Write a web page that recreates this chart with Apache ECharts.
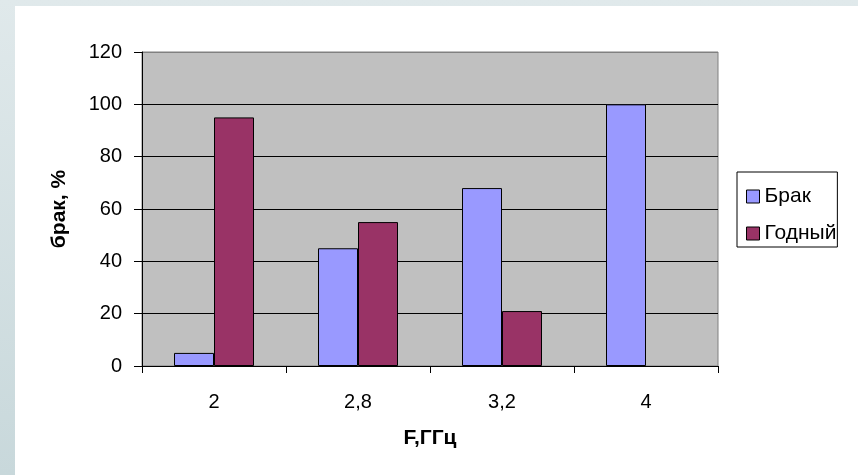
<!DOCTYPE html>
<html>
<head>
<meta charset="utf-8">
<script src="https://cdn.jsdelivr.net/npm/echarts@6/dist/echarts.min.js"></script>
<style>
  html, body { margin: 0; padding: 0; width: 858px; height: 475px; overflow: hidden;
    background: linear-gradient(to bottom, #e0e9eb, #c8d8db); }
  #panel { position: absolute; left: 15px; top: 6px; width: 843px; height: 469px; background: #ffffff; }
  #chart { position: absolute; left: 0; top: 0; width: 858px; height: 475px; }
</style>
</head>
<body>
<div id="panel"></div>
<div id="chart"></div>
<script>
const categories = ['2', '2,8', '3,2', '4'];
const brak = [5, 45, 68, 100];
const godny = [95, 55, 21, 0];
const seriesNames = ['Брак', 'Годный'];
const yTicks = { min: 0, max: 120, interval: 20 };

const font = 'Arial, "Liberation Sans", sans-serif';
function toItems(arr) {
  return arr.map(v => v === 0 ? { value: v, itemStyle: { borderWidth: 0 } } : v);
}
const chart = echarts.init(document.getElementById('chart'), null, { renderer: 'canvas' });
chart.setOption({
  backgroundColor: 'transparent',
  animation: false,
  grid: {
    left: 142, top: 52, right: 140, bottom: 109,
    show: true, backgroundColor: '#C0C0C0', borderColor: '#808080', borderWidth: 1
  },
  legend: {
    orient: 'vertical', left: 737, top: 172,
    padding: [13, 1, 2, 9],
    itemGap: 14, itemWidth: 13, itemHeight: 13,
    icon: 'rect',
    borderColor: '#000', borderWidth: 1, backgroundColor: '#fff',
    textStyle: { fontFamily: font, fontSize: 21, color: '#000', lineHeight: 23 },
    itemStyle: { borderColor: '#000', borderWidth: 1 },
    data: seriesNames
  },
  xAxis: {
    type: 'category', data: categories, boundaryGap: true,
    name: 'F,ГГц', nameLocation: 'middle', nameGap: 62,
    nameTextStyle: { fontFamily: font, fontSize: 21, fontWeight: 'bold', color: '#000' },
    axisLine: { lineStyle: { color: '#000', width: 1 } },
    axisTick: { show: true, length: 7, interval: 0, lineStyle: { color: '#000' } },
    axisLabel: { fontFamily: font, fontSize: 20, color: '#000', margin: 26 },
    splitLine: { show: false }
  },
  yAxis: {
    type: 'value', min: yTicks.min, max: yTicks.max, interval: yTicks.interval,
    name: 'брак, %', nameLocation: 'middle', nameGap: 72,
    nameTextStyle: { fontFamily: font, fontSize: 21, fontWeight: 'bold', color: '#000' },
    axisLine: { show: true, lineStyle: { color: '#000', width: 1 } },
    axisTick: { show: true, length: 8, lineStyle: { color: '#000' } },
    axisLabel: { fontFamily: font, fontSize: 20, color: '#000', margin: 20 },
    splitLine: { show: true, lineStyle: { color: ['#000', '#000', '#000', '#000', '#000', '#000', '#808080'], width: 1 } }
  },
  series: [
    { name: seriesNames[0], type: 'bar', data: toItems(brak), barWidth: 40, barGap: '0%',
      itemStyle: { color: '#9999FF', borderColor: '#000', borderWidth: 1 } },
    { name: seriesNames[1], type: 'bar', data: toItems(godny), barWidth: 40, barGap: '0%',
      itemStyle: { color: '#993366', borderColor: '#000', borderWidth: 1 } }
  ]
});
</script>
</body>
</html>
